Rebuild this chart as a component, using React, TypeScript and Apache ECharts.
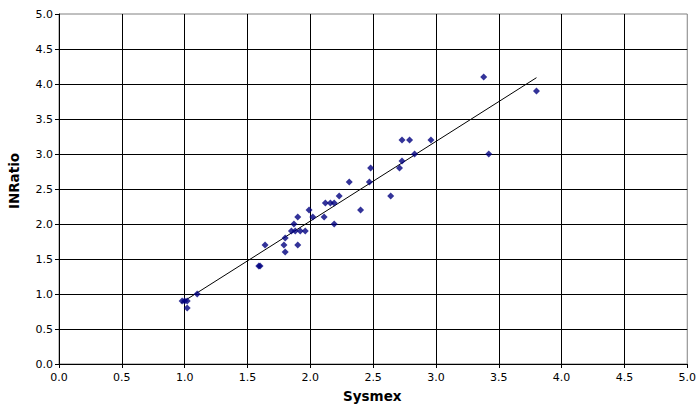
import React, { useEffect, useRef } from "react";
import * as echarts from "echarts";

// Sysmex (x) vs INRatio (y) readings
const sysmex = [
  0.98, 1.0, 1.02, 1.02, 1.1, 1.59, 1.6, 1.64, 1.79, 1.8, 1.8, 1.9, 1.85, 1.88,
  1.92, 1.96, 1.87, 2.19, 1.9, 2.02, 2.11, 1.99, 2.4, 2.12, 2.16, 2.19, 2.23,
  2.64, 2.31, 2.47, 2.48, 2.71, 2.73, 2.83, 3.42, 2.73, 2.79, 2.96, 3.38, 3.8,
];
const inratio = [
  0.9, 0.9, 0.9, 0.8, 1.0, 1.4, 1.4, 1.7, 1.7, 1.8, 1.6, 1.7, 1.9, 1.9, 1.9,
  1.9, 2.0, 2.0, 2.1, 2.1, 2.1, 2.2, 2.2, 2.3, 2.3, 2.3, 2.4, 2.4, 2.6, 2.6,
  2.8, 2.8, 2.9, 3.0, 3.0, 3.2, 3.2, 3.2, 4.1, 3.9,
];
// Linear trendline end points
const trendX = [0.97, 3.8];
const trendY = [0.87, 4.09];

const xTitle = "Sysmex";
const yTitle = "INRatio";

export default function App() {
  const ref = useRef<HTMLDivElement>(null);
  useEffect(() => {
    if (!ref.current) return;
    const chart = echarts.init(ref.current, undefined, { renderer: "svg" });
    const points = sysmex.map((x, i) => [x, inratio[i]]);
    const trend = trendX.map((x, i) => [x, trendY[i]]);
    const axisCommon = {
      type: "value" as const,
      min: 0,
      max: 5,
      interval: 0.5,
      axisLine: { show: true, lineStyle: { color: "#000", width: 1 } },
      axisTick: { show: true, inside: false, length: 4, lineStyle: { color: "#000" } },
      splitLine: {
        show: true,
        showMaxLine: false,
        lineStyle: { color: "#000", width: 1 },
      },
      axisLabel: {
        color: "#000",
        fontFamily: "DejaVu Sans",
        fontSize: 11,
        formatter: (v: number) => v.toFixed(1),
      },
    };
    chart.setOption({
      animation: false,
      backgroundColor: "#fff",
      grid: {
        left: 59,
        right: 11,
        top: 14,
        bottom: 47,
        show: true,
        borderColor: "#808080",
        borderWidth: 1,
        backgroundColor: "transparent",
      },
      xAxis: {
        ...axisCommon,
        axisLabel: { ...axisCommon.axisLabel, margin: 8 },
      },
      yAxis: {
        ...axisCommon,
        axisLabel: { ...axisCommon.axisLabel, margin: 6 },
      },
      graphic: [
        {
          type: "text",
          left: 343,
          top: 389,
          style: {
            text: xTitle,
            font: "bold 13.5px 'DejaVu Sans'",
            fill: "#000",
          },
        },
        {
          type: "text",
          x: 14,
          y: 181,
          rotation: Math.PI / 2,
          style: {
            text: yTitle,
            font: "bold 13.5px 'DejaVu Sans'",
            fill: "#000",
            align: "center",
            verticalAlign: "middle",
          },
        },
      ],
      series: [
        {
          type: "line",
          data: trend,
          showSymbol: false,
          symbol: "none",
          lineStyle: { color: "#000", width: 1 },
          z: 3,
        },
        {
          type: "scatter",
          data: points,
          symbol: "diamond",
          symbolSize: 7,
          itemStyle: { color: "#00007f" },
          z: 4,
        },
      ],
    });
    return () => chart.dispose();
  }, []);
  return (
    <div
      ref={ref}
      style={{ position: "fixed", left: 0, top: 0, width: 699, height: 411, background: "#fff" }}
    />
  );
}
